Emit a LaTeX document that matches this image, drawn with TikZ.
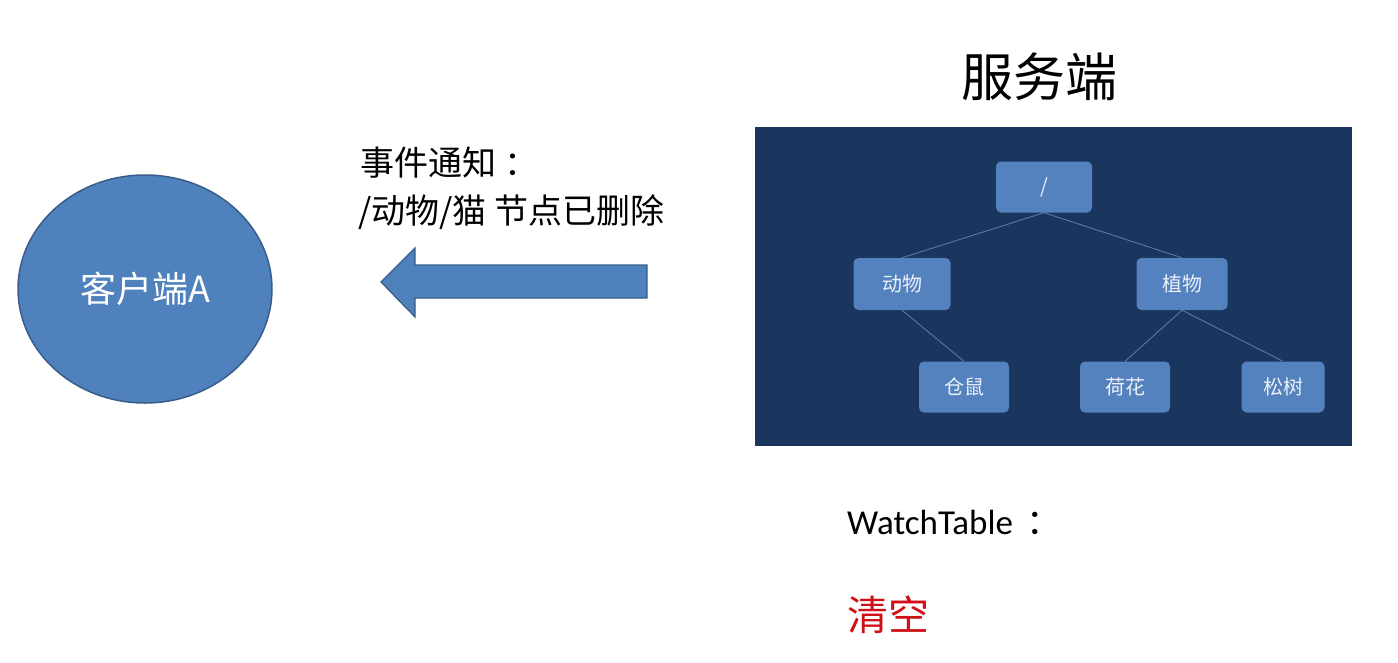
\documentclass[tikz,border=0pt]{standalone}
\usepackage{fontspec}
\setmainfont{Liberation Sans}
\newfontfamily\cjk{Noto Sans CJK SC}
\newfontfamily\cali{Carlito}
\usetikzlibrary{shapes.geometric}
\definecolor{nodeblue}{RGB}{79,129,189}
\definecolor{nodeedge}{RGB}{56,93,138}
\definecolor{panel}{RGB}{27,54,94}
\definecolor{boxblue}{RGB}{84,130,190}
\definecolor{linkcol}{RGB}{90,120,165}
\definecolor{boxtext}{RGB}{235,240,248}
\definecolor{alert}{RGB}{208,16,24}
\tikzset{
  treebox/.style={draw=none, fill=boxblue, rounded corners=5pt, inner sep=0pt,
    font=\cjk\fontsize{20}{24}\selectfont, text=boxtext},
  link/.style={draw=linkcol, line width=0.9pt},
  plain/.style={inner sep=0pt, anchor=west, font=\cjk\fontsize{34}{38}\selectfont}
}
\begin{document}
\begin{tikzpicture}[x=1pt,y=-1pt]
\useasboundingbox (0,0) rectangle (1398,662);
% client
\node[ellipse, draw=nodeedge, line width=1.5pt, fill=nodeblue, minimum width=254pt, minimum height=228pt, inner sep=0pt,
  font=\cjk\fontsize{36}{40}\selectfont, text=white] (client) at (145,289) {客户端A};
% notification text
\node[plain] (n1) at (360,163) {事件通知\hspace{8pt}：};
\node[plain] (n2) at (358,212) {/动物/猫 节点已删除};
% arrow
\draw[fill=nodeblue, draw=nodeedge, line width=1.2pt]
  (381,282) -- (415,248) -- (415,265) -- (647,265) -- (647,298) -- (415,298) -- (415,317) -- cycle;
% server title
\node[inner sep=0pt, font=\cjk\fontsize{52}{60}\selectfont] (title) at (1039,77) {服务端};
% panel
\node[fill=panel, minimum width=597pt, minimum height=319pt, inner sep=0pt, anchor=north west] (panel) at (755,127) {};
% tree boxes
\node[treebox, minimum width=96pt, minimum height=51pt] (root) at (1044,187) {/};
\node[treebox, minimum width=97pt, minimum height=52pt] (animal) at (902,284) {动物};
\node[treebox, minimum width=91pt, minimum height=52pt] (plant) at (1182,284) {植物};
\node[treebox, minimum width=90pt, minimum height=51pt] (hamster) at (964,387) {仓鼠};
\node[treebox, minimum width=90pt, minimum height=51pt] (lotus) at (1125,387) {荷花};
\node[treebox, minimum width=83pt, minimum height=51pt] (pine) at (1283,387) {松树};
% links
\draw[link] (root.south) -- (animal.north);
\draw[link] (root.south) -- (plant.north);
\draw[link] (animal.south) -- (hamster.north);
\draw[link] (plant.south) -- (lotus.north);
\draw[link] (plant.south) -- (pine.north);
% watch table
\node[inner sep=0pt, anchor=west, font=\cali\fontsize{35}{40}\selectfont] (wt) at (847,522) {WatchTable\hspace{14pt}\cjk：};
\node[inner sep=0pt, anchor=west, font=\cjk\fontsize{41}{46}\selectfont, text=alert] (clear) at (847,615) {清空};
\end{tikzpicture}
\end{document}
